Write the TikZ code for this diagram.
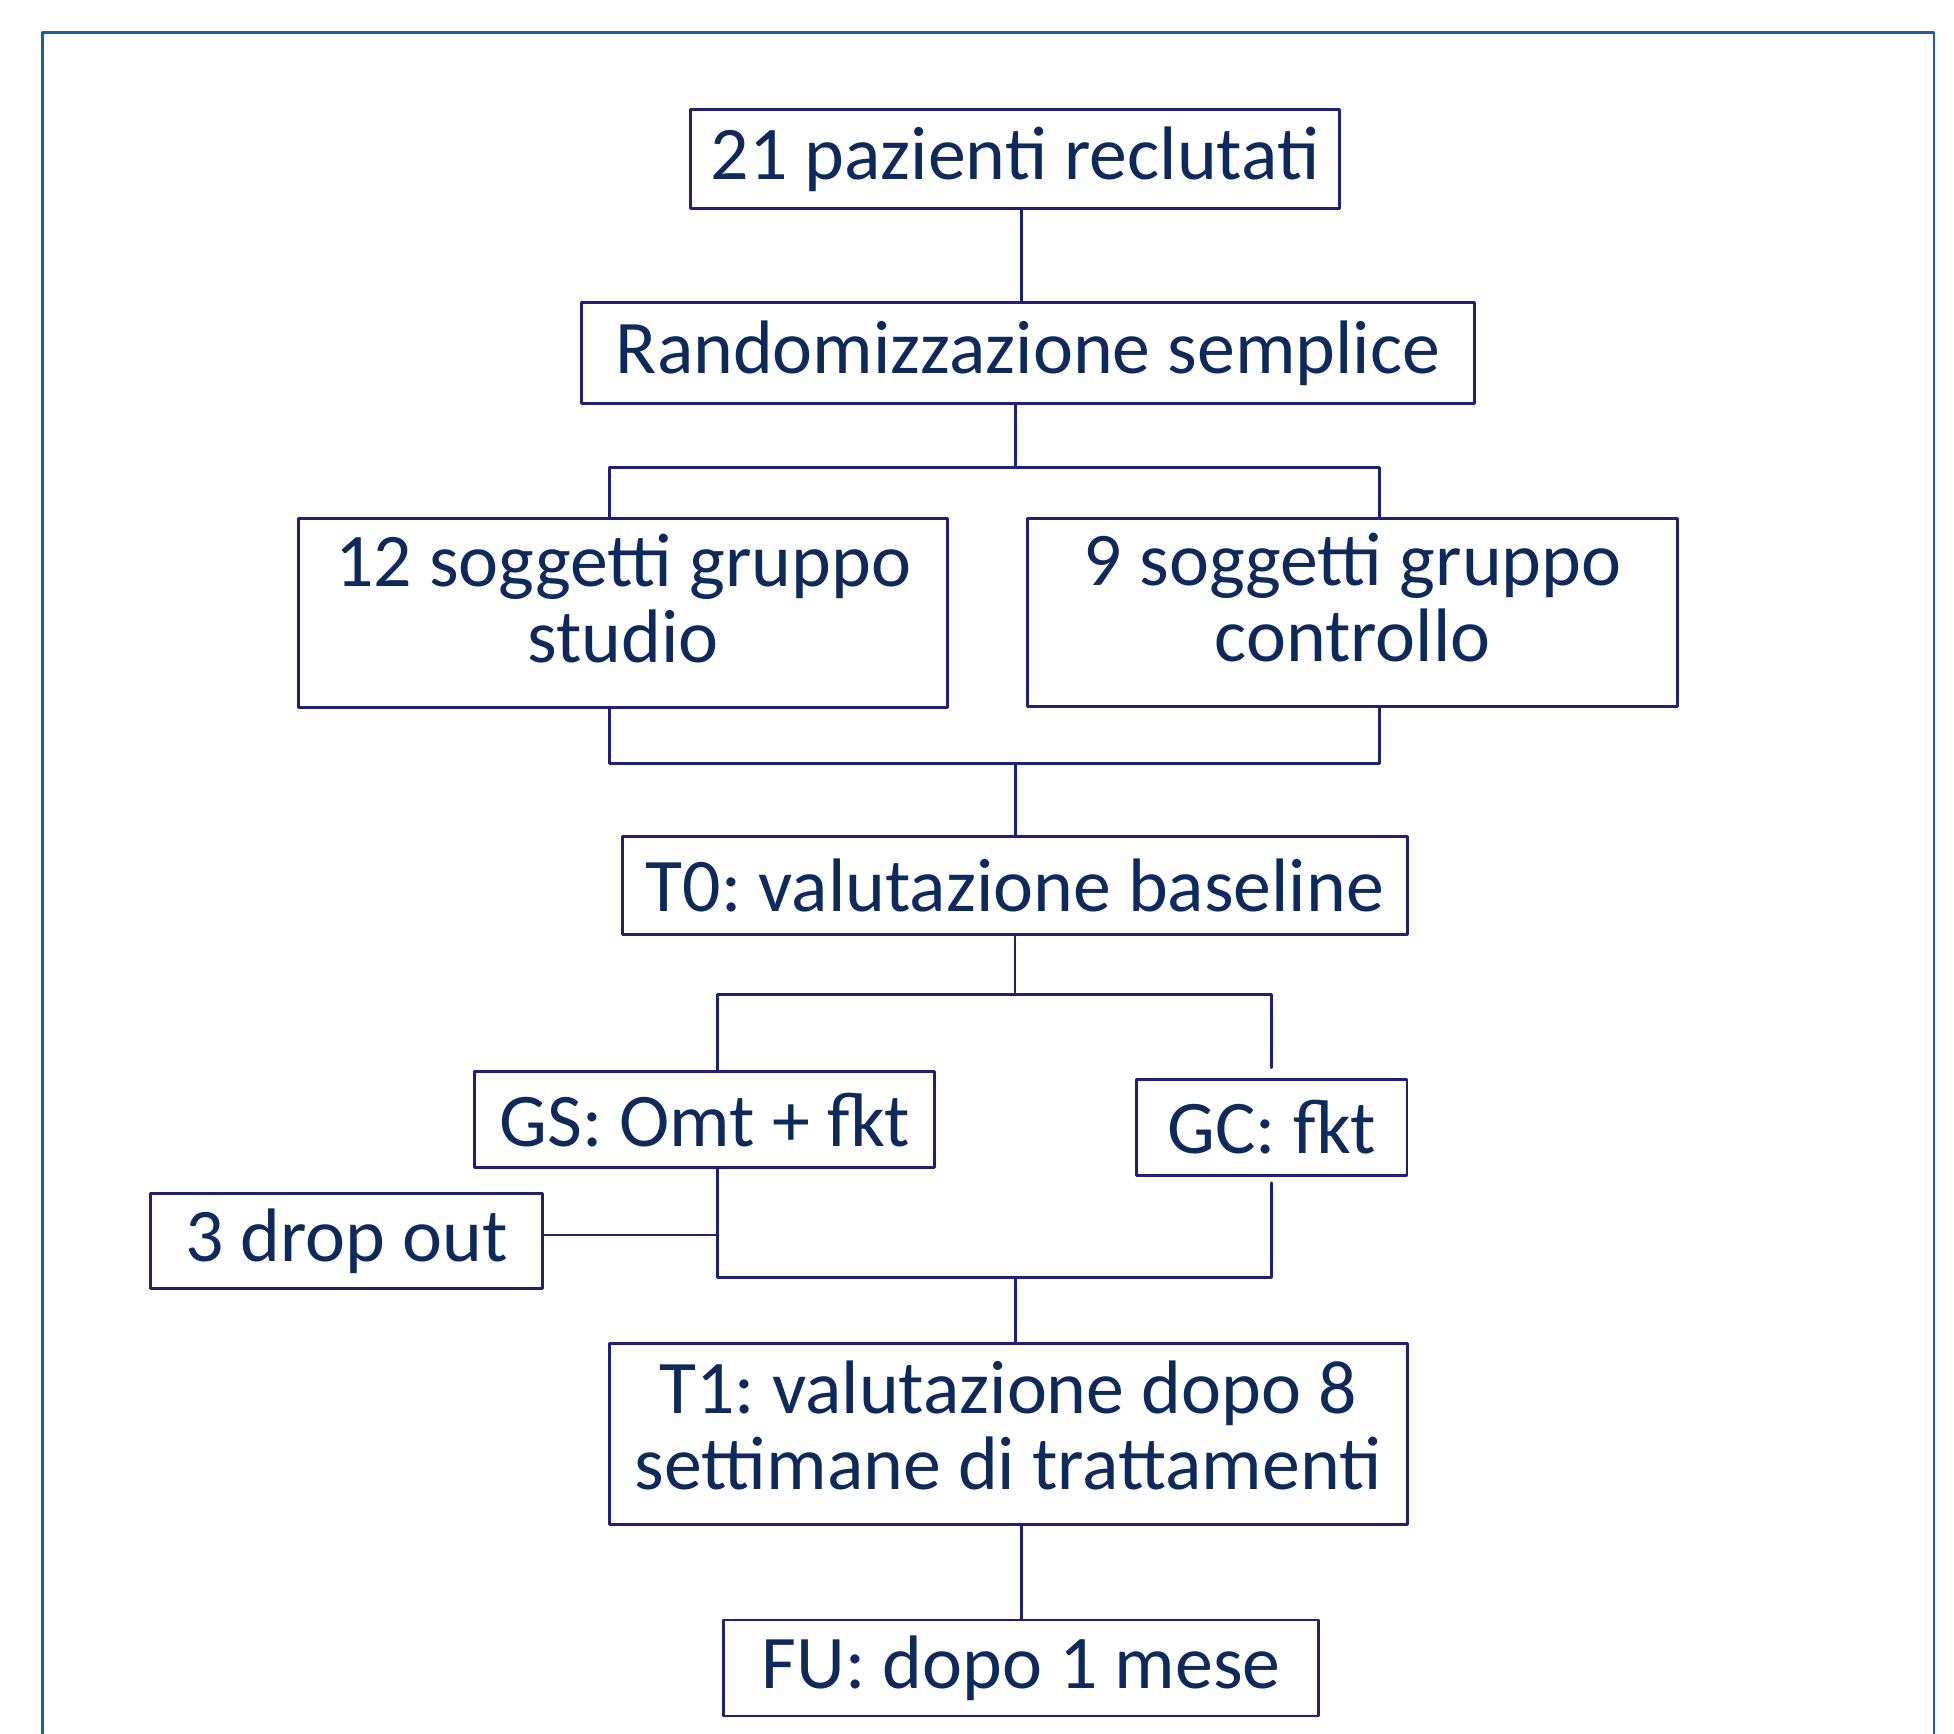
\documentclass[tikz,border=0pt]{standalone}
\usepackage{fontspec}
\setmainfont{Carlito}
\usepackage{tikz}
\usetikzlibrary{positioning}
\usetikzlibrary{calc}
\definecolor{navytext}{RGB}{14,42,92}
\definecolor{boxline}{RGB}{32,32,122}
\definecolor{frameblue}{RGB}{28,92,168}
\newcommand{\lowpad}[1]{\rule[-#1]{0pt}{0pt}}

\begin{document}
\frenchspacing
\begin{tikzpicture}[x=0.01cm, y=-0.01cm, line cap=round, line join=round,
        box/.style={draw=boxline, line width=0.65pt, inner sep=0pt, align=center,
            text=navytext, font=\fontsize{17.3}{17.3}\selectfont\frenchspacing},
        link/.style={draw=boxline, line width=0.65pt}]
        \useasboundingbox (0,0) rectangle (1568,1391);

        % outer frame (open at the bottom)
        \draw[frameblue, line width=0.65pt] (34,1391) -- (34,26) -- (1552,26) -- (1552,1391);

        % boxes
        \node[box, minimum width=5.21cm, minimum height=0.79cm] (recl) at (814.5,127.5) {21 pazienti reclutati};
        \node[box, minimum width=7.16cm, minimum height=0.81cm] (rand) at (825,283.5) {Randomizzazione semplice};
        \node[box, minimum width=5.20cm, minimum height=1.52cm] (studio) at (500,492) {12 soggetti gruppo\\studio\lowpad{0.24cm}};
        \node[box, minimum width=5.21cm, minimum height=1.51cm] (ctrl) at (1085.5,491.5) {9 soggetti gruppo\\controllo\lowpad{0.24cm}};
        \node[box, minimum width=6.29cm, minimum height=0.79cm] (base) at (814.5,710.5) {T0: valutazione baseline};
        \node[box, minimum width=3.69cm, minimum height=0.77cm] (gs) at (565.5,898.5) {GS: Omt + fkt};
        \node[box, minimum width=2.17cm, minimum height=0.77cm] (gc) at (1020.5,904.5) {GC: fkt};
        \node[box, minimum width=3.14cm, minimum height=0.76cm] (drop) at (278,996) {3 drop out};
        \node[box, minimum width=6.40cm, minimum height=1.45cm] (tone) at (809,1150.5) {T1: valutazione dopo 8\\settimane di trattamenti\lowpad{0.14cm}};
        \node[box, minimum width=4.77cm, minimum height=0.77cm] (fu) at (819.5,1338.5) {FU: dopo 1 mese};

        % junction points
        \coordinate (sA) at (489,375);
        \coordinate (sB) at (1107,375);
        \coordinate (mA) at (489,613);
        \coordinate (mB) at (1107,613);
        \coordinate (tA) at (576,798);
        \coordinate (tB) at (1020,798);
        \coordinate (uA) at (576,1025);
        \coordinate (uB) at (1020,1025);

        % connectors
        \draw[link] (820,0 |- recl.south) -- (820,0 |- rand.north);
        \draw[link] (815,0 |- rand.south) -- (815,375);
        \draw[link] (sA |- studio.north) -- (sA) -- (sB) -- (sB |- ctrl.north);
        \draw[link] (mA |- studio.south) -- (mA) -- (mB) -- (mB |- ctrl.south);
        \draw[link] (815,613) -- (815,0 |- base.north);
        \draw[link] (base.south) -- (base.south |- tA);
        \draw[link] (tA |- gs.north) -- (tA) -- (tB) -- ([yshift=0.08cm]tB |- gc.north);
        \draw[link] (uA |- gs.south) -- (uA) -- (uB) -- ([yshift=-0.05cm]uB |- gc.south);
        \draw[link] ([yshift=0.05cm]drop.east) -- ([yshift=0.05cm]drop.east -| uA);
        \draw[link] (815,1025) -- (815,0 |- tone.north);
        \draw[link] (820,0 |- tone.south) -- (820,0 |- fu.north);
    \end{tikzpicture}
\end{document}
